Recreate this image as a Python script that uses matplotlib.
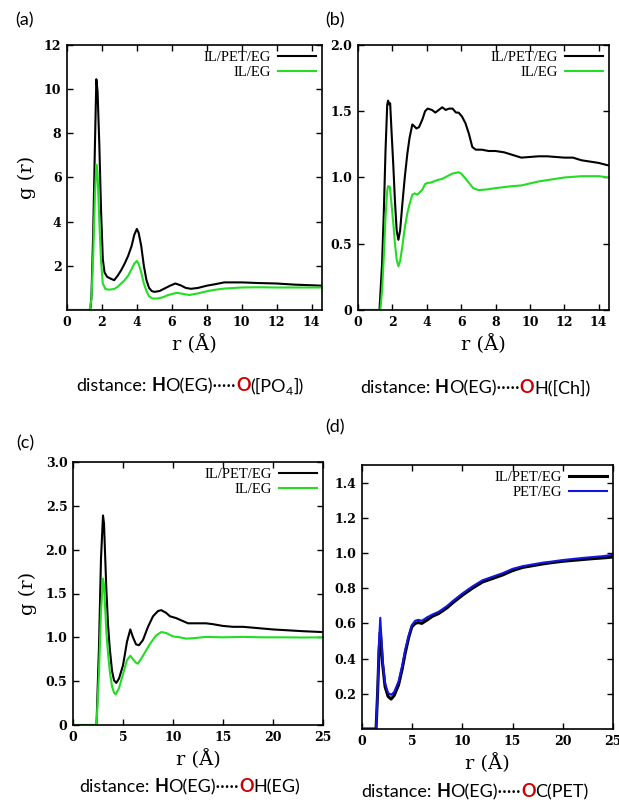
import matplotlib
matplotlib.use("Agg")
import matplotlib.pyplot as plt

# ---- data ----
# (a) HO(EG)...O([PO4])
r_a_ilpet = [0, 1.33, 1.4, 1.5, 1.6, 1.68, 1.75, 1.85, 1.95, 2.05, 2.15, 2.3, 2.5, 2.7, 2.9, 3.1,
             3.3, 3.5, 3.7, 3.85, 4.0, 4.1, 4.25, 4.4, 4.55, 4.7, 4.85, 5.0, 5.3, 5.6, 5.9, 6.2,
             6.5, 6.8, 7.1, 7.5, 8.0, 8.5, 9.0, 10, 11, 12, 13, 14, 14.6]
g_a_ilpet = [0, 0, 0.6, 3.5, 7.5, 10.45, 9.9, 7.5, 4.5, 2.3, 1.7, 1.5, 1.42, 1.35, 1.55, 1.8,
             2.1, 2.45, 2.9, 3.4, 3.67, 3.5, 2.9, 2.0, 1.35, 1.0, 0.86, 0.82, 0.86, 0.98, 1.1, 1.2,
             1.12, 1.0, 0.96, 1.0, 1.1, 1.17, 1.25, 1.25, 1.22, 1.2, 1.15, 1.12, 1.1]
r_a_il = [0, 1.3, 1.4, 1.5, 1.6, 1.68, 1.75, 1.85, 1.95, 2.05, 2.2, 2.4, 2.7, 2.9, 3.1, 3.3, 3.5,
          3.7, 3.85, 4.0, 4.1, 4.25, 4.4, 4.55, 4.7, 4.9, 5.2, 5.5, 5.8, 6.3, 6.7, 7.0, 7.5, 8.0,
          8.5, 9.0, 10, 11, 12, 13, 14.6]
g_a_il = [0, 0, 0.5, 2.5, 5.2, 6.58, 6.2, 4.0, 2.2, 1.2, 0.95, 0.92, 0.95, 1.05, 1.2, 1.35, 1.55,
          1.85, 2.1, 2.22, 2.1, 1.7, 1.2, 0.85, 0.62, 0.52, 0.52, 0.58, 0.68, 0.78, 0.72, 0.68,
          0.75, 0.85, 0.92, 0.97, 1.02, 1.03, 1.02, 1.02, 1.02]

# (b) HO(EG)...OH([Ch])
r_b_ilpet = [0, 1.25, 1.4, 1.5, 1.6, 1.7, 1.75, 1.82, 1.87, 1.95, 2.05, 2.15, 2.25, 2.35, 2.45,
             2.58, 2.72, 2.87, 3.0, 3.16, 3.25, 3.4, 3.55, 3.75, 3.9, 4.05, 4.3, 4.5, 4.7, 4.9,
             5.1, 5.3, 5.5, 5.7, 5.85, 6.05, 6.25, 6.45, 6.65, 6.85, 7.2, 7.6, 8.0, 8.5, 9.0,
             9.5, 10, 10.5, 11, 11.5, 12, 12.5, 13, 13.5, 14, 14.6]
g_b_ilpet = [0, 0, 0.35, 0.73, 1.2, 1.55, 1.58, 1.55, 1.56, 1.35, 1.1, 0.82, 0.6, 0.53, 0.6,
             0.8, 1.0, 1.18, 1.3, 1.40, 1.39, 1.37, 1.38, 1.44, 1.5, 1.52, 1.51, 1.49, 1.51, 1.53,
             1.51, 1.52, 1.52, 1.49, 1.49, 1.46, 1.41, 1.33, 1.23, 1.21, 1.21, 1.2, 1.2, 1.19, 1.17,
             1.15, 1.155, 1.16, 1.16, 1.155, 1.15, 1.15, 1.13, 1.12, 1.11, 1.09]
r_b_il = [0, 1.3, 1.4, 1.5, 1.6, 1.7, 1.75, 1.85, 1.95, 2.05, 2.15, 2.25, 2.35, 2.45, 2.58, 2.72,
          2.87, 3.0, 3.16, 3.3, 3.45, 3.6, 3.75, 3.9, 4.05, 4.2, 4.4, 4.6, 4.9, 5.2, 5.5, 5.85,
          6.0, 6.2, 6.45, 6.7, 7.0, 7.5, 8.0, 9.0, 9.5, 10, 10.5, 11, 11.5, 12, 12.5, 13, 14, 14.6]
g_b_il = [0, 0, 0.15, 0.4, 0.7, 0.9, 0.935, 0.93, 0.8, 0.66, 0.5, 0.38, 0.33, 0.37, 0.48, 0.62,
          0.73, 0.8, 0.87, 0.88, 0.87, 0.89, 0.91, 0.95, 0.96, 0.96, 0.97, 0.98, 0.99, 1.01, 1.03,
          1.04, 1.03, 1.0, 0.96, 0.92, 0.905, 0.91, 0.92, 0.935, 0.94, 0.955, 0.97, 0.98, 0.99,
          1.0, 1.005, 1.01, 1.01, 1.0]

# (c) HO(EG)...OH(EG)
r_c_ilpet = [0, 2.35, 2.6, 2.8, 3.0, 3.1, 3.33, 3.5, 3.67, 3.9, 4.1, 4.33, 4.6, 5.0, 5.4, 5.73,
             6.0, 6.3, 6.6, 7.0, 7.5, 8.0, 8.5, 8.83, 9.3, 9.7, 10.3, 10.7, 11.5, 12.5, 13.3, 14,
             15, 16, 17, 18, 19, 20, 21.5, 23, 25]
g_c_ilpet = [0, 0, 0.9, 1.9, 2.39, 2.3, 1.56, 1.15, 0.88, 0.62, 0.51, 0.48, 0.53, 0.68, 0.95,
             1.09, 1.0, 0.92, 0.91, 0.97, 1.12, 1.24, 1.3, 1.31, 1.28, 1.24, 1.22, 1.2, 1.16, 1.16,
             1.16, 1.15, 1.13, 1.12, 1.12, 1.11, 1.1, 1.09, 1.08, 1.07, 1.06]
r_c_il = [0, 2.35, 2.6, 2.8, 3.0, 3.1, 3.33, 3.5, 3.67, 3.9, 4.1, 4.27, 4.6, 5.0, 5.4, 5.73, 6.0,
          6.3, 6.5, 7.0, 7.67, 8.3, 8.83, 9.3, 10, 10.7, 11.33, 12, 13.3, 15, 17, 19, 21, 23, 25]
g_c_il = [0, 0, 0.6, 1.3, 1.67, 1.6, 1.07, 0.82, 0.62, 0.44, 0.37, 0.35, 0.42, 0.58, 0.74, 0.79,
          0.75, 0.71, 0.7, 0.79, 0.92, 1.02, 1.06, 1.05, 1.01, 1.0, 0.985, 0.99, 1.005, 1.0,
          1.005, 1.0, 1.0, 0.998, 1.0]

# (d) HO(EG)...OC(PET)
r_d = [0, 1.4, 1.55, 1.7, 1.82, 1.95, 2.05, 2.3, 2.6, 2.9, 3.2, 3.64, 4.0, 4.3, 4.65, 4.96, 5.3,
       5.6, 5.96, 6.5, 7.0, 7.6, 8.0, 8.5, 9.0, 10, 11, 12, 13, 14, 15, 16, 17, 18, 19, 20, 21,
       22, 23, 24, 25]
g_d_ilpet = [0, 0, 0.2, 0.45, 0.55, 0.46, 0.37, 0.24, 0.185, 0.17, 0.19, 0.25, 0.34, 0.43, 0.52,
             0.58, 0.6, 0.605, 0.6, 0.62, 0.64, 0.655, 0.67, 0.69, 0.715, 0.76, 0.8, 0.835,
             0.855, 0.875, 0.9, 0.918, 0.928, 0.938, 0.946, 0.953, 0.958, 0.963, 0.968, 0.972,
             0.977]
g_d_pet = [0, 0, 0.2, 0.5, 0.632, 0.5, 0.39, 0.26, 0.205, 0.194, 0.21, 0.27, 0.36, 0.45, 0.53,
           0.59, 0.615, 0.62, 0.615, 0.635, 0.65, 0.665, 0.68, 0.7, 0.725, 0.77, 0.81, 0.845,
           0.865, 0.885, 0.91, 0.925, 0.935, 0.945, 0.952, 0.96, 0.966, 0.972, 0.977, 0.982, 0.99]

BLACK = "#000000"
GREEN = "#22dd22"
BLUE = "#1515e0"
RED = "#cc0000"
CAP_FONT = "Lato"
CAP_SIZE = 13

W, H = 619, 810
fig = plt.figure(figsize=(W / 100, H / 100), dpi=100)


def make_ax(left, top, right, bottom):
    # pixel box -> figure fraction
    return fig.add_axes([left / W, 1 - bottom / H, (right - left) / W, (bottom - top) / H])


def style(ax, xlim, ylim, xticks, yticks, ylab):
    ax.set_xlim(*xlim)
    ax.set_ylim(*ylim)
    ax.set_xticks(xticks)
    ax.set_yticks(yticks)
    if ylim[1] < 5:
        ax.set_yticklabels(["0" if v == 0 else "%.1f" % v for v in yticks])
    ax.tick_params(direction="in", top=True, right=True, length=4, width=1, pad=4)
    for lab in ax.get_xticklabels() + ax.get_yticklabels():
        lab.set_family("DejaVu Serif")
        lab.set_weight("bold")
        lab.set_size(9)
    for s in ax.spines.values():
        s.set_linewidth(1.2)
    ax.set_xlabel("r (Å)", family="DejaVu Serif", size=14, labelpad=4)
    if ylab:
        ax.set_ylabel("g (r)", family="DejaVu Serif", size=14, labelpad=6)
    ax.legend(loc="upper right", frameon=False, markerfirst=False,
              prop={"family": "Liberation Serif", "size": 10.5},
              handlelength=2.6, handletextpad=0.5, labelspacing=0.1,
              borderaxespad=0.2, borderpad=0.2)


captions = []


def caption(xc, y, tail):
    # pieces: (text, weight, colour, is_subscript)
    parts = [("distance:", "normal", BLACK, False), (" ", "normal", BLACK, False),
             ("H", "bold", BLACK, False), ("O(EG)·····", "normal", BLACK, False),
             ("O", "bold", RED, False)] + tail
    items = []
    for s, w, c, sub in parts:
        size = CAP_SIZE * 0.68 if sub else CAP_SIZE
        t = fig.text(0, 0, s if s != " " else "a", family=CAP_FONT, size=size, weight=w,
                     color=c, va="baseline", ha="left")
        items.append((t, s, sub))
    captions.append((xc, y, items))


def layout_captions():
    fig.canvas.draw()
    r = fig.canvas.get_renderer()
    for xc, y, items in captions:
        widths = []
        for t, s, sub in items:
            if s == " ":
                widths.append(CAP_SIZE * 0.26 * 100 / 72)
                t.set_text("")
            else:
                widths.append(t.get_window_extent(r).width)
        total = sum(widths)
        x = xc - total / 2
        for (t, s, sub), wd in zip(items, widths):
            dy = 4 if sub else 0
            t.set_position((x / W, 1 - (y + dy) / H))
            x += wd


ax_a = make_ax(67, 45, 322, 310)
ax_a.plot(r_a_ilpet, g_a_ilpet, color=BLACK, lw=1.5, label="IL/PET/EG")
ax_a.plot(r_a_il, g_a_il, color=GREEN, lw=1.5, label="IL/EG")
style(ax_a, (0, 14.6), (0, 12), range(0, 15, 2), [2, 4, 6, 8, 10, 12], True)

ax_b = make_ax(358, 45, 609, 310)
ax_b.plot(r_b_ilpet, g_b_ilpet, color=BLACK, lw=1.5, label="IL/PET/EG")
ax_b.plot(r_b_il, g_b_il, color=GREEN, lw=1.5, label="IL/EG")
style(ax_b, (0, 14.6), (0, 2.0), range(0, 15, 2), [0, 0.5, 1.0, 1.5, 2.0], False)

ax_c = make_ax(73, 462, 323, 725)
ax_c.plot(r_c_ilpet, g_c_ilpet, color=BLACK, lw=1.5, label="IL/PET/EG")
ax_c.plot(r_c_il, g_c_il, color=GREEN, lw=1.5, label="IL/EG")
style(ax_c, (0, 25), (0, 3.0), range(0, 26, 5), [0, 0.5, 1.0, 1.5, 2.0, 2.5, 3.0], True)

ax_d = make_ax(362, 465, 613, 729)
ax_d.plot(r_d, g_d_ilpet, color=BLACK, lw=2.2, label="IL/PET/EG")
ax_d.plot(r_d, g_d_pet, color=BLUE, lw=1.5, label="PET/EG")
style(ax_d, (0, 25), (0, 1.5), range(0, 26, 5), [0.2, 0.4, 0.6, 0.8, 1.0, 1.2, 1.4], False)

for lab, (px, py) in zip(["(a)", "(b)", "(c)", "(d)"],
                         [(25, 20), (335, 20), (25, 443), (335, 427)]):
    fig.text(px / W, 1 - py / H, lab, family=CAP_FONT, size=13, ha="center", va="center")

caption(190, 391, [("([PO", "normal", BLACK, False), ("4", "normal", BLACK, True),
                   ("])", "normal", BLACK, False)])
caption(475, 393, [("H([Ch])", "normal", BLACK, False)])
caption(190, 792, [("H(EG)", "normal", BLACK, False)])
caption(475, 797, [("C(PET)", "normal", BLACK, False)])
layout_captions()

fig.savefig("out.png", dpi=100)
